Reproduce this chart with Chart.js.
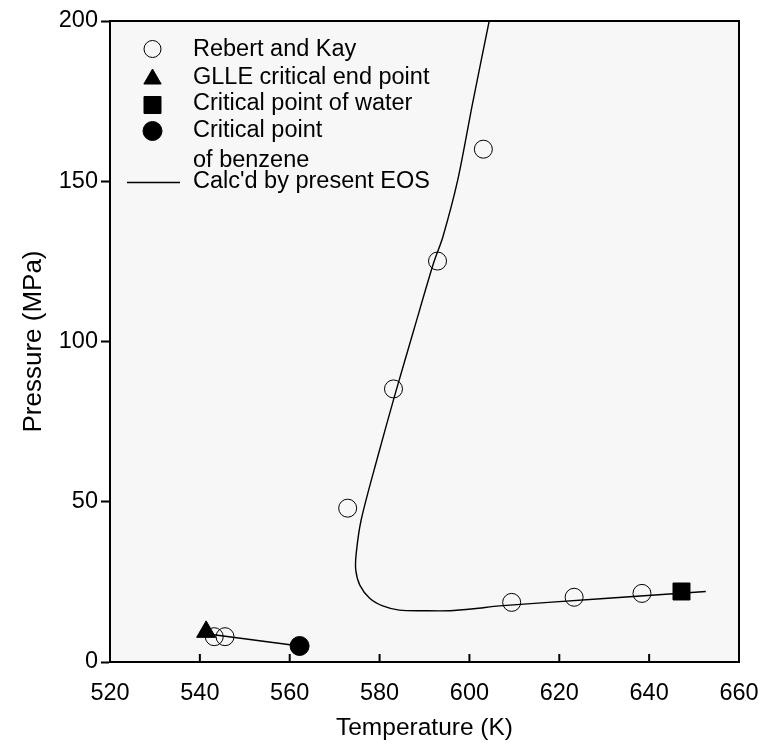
<!DOCTYPE html>
<html>
<head>
<meta charset="utf-8">
<script src="https://cdn.jsdelivr.net/npm/chart.js@4.4.1/dist/chart.umd.min.js"></script>
<style>
  html, body { margin: 0; padding: 0; background: #fff; }
  #wrap { width: 768px; height: 747px; position: relative; }
</style>
</head>
<body>
<div id="wrap"><canvas id="c"></canvas></div>
<script>
// Axis ticks
const tempTicks = [520, 540, 560, 580, 600, 620, 640, 660];
const pressTicks = [0, 50, 100, 150, 200];

// Rebert and Kay measurements (T in K, P in MPa)
const rebertKayT = [543.2, 545.6, 572.9, 583.1, 592.9, 603.1, 609.4, 623.3, 638.4];
const rebertKayP = [7.9, 7.9, 48.0, 85.2, 125.1, 160.0, 18.6, 20.2, 21.4];

// Special points
const glleT = [541.4];
const glleP = [9.4];
const waterCritT = [647.2];
const waterCritP = [22.0];
const benzeneCritT = [562.2];
const benzeneCritP = [5.0];

// EOS critical locus, benzene-rich branch
const eosLowT = [541.4, 562.2];
const eosLowP = [8.8, 5.0];

// EOS critical locus, water-rich branch
const eosHighT = [604.4, 600.7, 597.4, 594.1, 592.0, 587.6, 583.3, 579.6, 575.9, 574.8, 574.7, 575.6, 577.8, 580.7, 584.4, 590.0, 595.6, 601.0, 606.7, 630.0, 652.6];
const eosHighP = [200.0, 174.3, 150.4, 132.7, 124.4, 103.5, 82.8, 64.1, 44.3, 33.9, 28.7, 24.0, 19.9, 17.5, 16.2, 16.0, 16.0, 16.6, 17.5, 19.8, 22.0];

// Legend text
const legendLabels = [
  ['Rebert and Kay'],
  ['GLLE critical end point'],
  ['Critical point of water'],
  ['Critical point', 'of benzene'],
  ["Calc'd by present EOS"]
];

const pts = (xs, ys) => xs.map((x, i) => ({ x: x, y: ys[i] }));

const FONT = '"Liberation Sans", Arial, Helvetica, sans-serif';

const datasets = [
  { label: legendLabels[0].join(' '), data: pts(rebertKayT, rebertKayP), pointStyle: 'circle',
    pointRadius: 9, backgroundColor: 'rgba(0,0,0,0)', borderColor: '#000', borderWidth: 1, order: 1 },
  { label: legendLabels[1].join(' '), data: pts(glleT, glleP), pointStyle: 'triangle',
    pointRadius: 11, backgroundColor: '#000', borderColor: '#000', borderWidth: 1, order: 1 },
  { label: legendLabels[2].join(' '), data: pts(waterCritT, waterCritP), pointStyle: 'rect',
    pointRadius: 12, backgroundColor: '#000', borderColor: '#000', borderWidth: 1, order: 1 },
  { label: legendLabels[3].join(' '), data: pts(benzeneCritT, benzeneCritP), pointStyle: 'circle',
    pointRadius: 9.5, backgroundColor: '#000', borderColor: '#000', borderWidth: 1, order: 1 },
  { label: legendLabels[4].join(' '), data: pts(eosHighT, eosHighP), showLine: true, pointRadius: 0,
    borderColor: '#000', borderWidth: 1.4, tension: 0.3, fill: false, order: 2 },
  { label: legendLabels[4].join(' ') + ' (low)', data: pts(eosLowT, eosLowP), showLine: true, pointRadius: 0,
    borderColor: '#000', borderWidth: 1.4, tension: 0, fill: false, order: 2 }
];

// Light panel behind the plotting area
const panelBg = {
  id: 'panelBg',
  beforeDraw(chart) {
    const { ctx, chartArea: a } = chart;
    ctx.save();
    ctx.fillStyle = '#f7f7f7';
    ctx.fillRect(a.left, a.top, a.right - a.left, a.bottom - a.top);
    ctx.restore();
  }
};

// Closed frame and inward ticks on the temperature axis
const frame = {
  id: 'frame',
  afterDatasetsDraw(chart) {
    const { ctx, chartArea: a, scales } = chart;
    ctx.save();
    ctx.strokeStyle = '#000';
    ctx.lineWidth = 2;
    ctx.beginPath();
    scales.x.ticks.forEach(t => {
      const px = scales.x.getPixelForValue(t.value);
      ctx.moveTo(px, a.bottom);
      ctx.lineTo(px, a.bottom - 8);
    });
    ctx.stroke();
    ctx.strokeRect(a.left, a.top, a.right - a.left, a.bottom - a.top);
    ctx.restore();
  }
};

// Legend box inside the plot
const insetLegend = {
  id: 'insetLegend',
  afterDraw(chart) {
    const { ctx } = chart;
    const H = Chart.helpers;
    const symX = 152.5, textX = 193;
    const rows = [
      { ds: 0, symY: 49, radius: 8.5, base: [56] },
      { ds: 1, symY: 79, radius: 10, base: [84] },
      { ds: 2, symY: 105, radius: 12, base: [110] },
      { ds: 3, symY: 131, radius: 9.5, base: [137, 167] },
      { ds: 4, symY: 182.5, line: true, base: [188] }
    ];
    ctx.save();
    rows.forEach((r, i) => {
      const d = datasets[r.ds];
      if (r.line) {
        ctx.strokeStyle = d.borderColor;
        ctx.lineWidth = d.borderWidth;
        ctx.beginPath();
        ctx.moveTo(127, r.symY);
        ctx.lineTo(180, r.symY);
        ctx.stroke();
      } else {
        ctx.fillStyle = d.backgroundColor;
        ctx.strokeStyle = d.borderColor;
        ctx.lineWidth = d.borderWidth;
        H.drawPoint(ctx, { pointStyle: d.pointStyle, radius: r.radius, rotation: 0, borderWidth: d.borderWidth }, symX, r.symY);
      }
      ctx.fillStyle = '#000';
      ctx.font = '23.5px ' + FONT;
      ctx.textBaseline = 'alphabetic';
      ctx.textAlign = 'left';
      legendLabels[i].forEach((txt, k) => ctx.fillText(txt, textX, r.base[k]));
    });
    ctx.restore();
  }
};

new Chart(document.getElementById('c'), {
  type: 'scatter',
  data: { datasets },
  options: {
    responsive: true,
    maintainAspectRatio: false,
    animation: false,
    events: [],
    layout: { padding: { top: 21, right: 29, left: 0, bottom: 0 } },
    plugins: { legend: { display: false }, tooltip: { enabled: false } },
    scales: {
      x: {
        type: 'linear',
        min: 520, max: 660,
        afterBuildTicks: s => { s.ticks = tempTicks.map(v => ({ value: v })); },
        afterFit: s => { s.height = 85; s.paddingLeft = 0; s.paddingRight = 0; },
        grid: { display: true, drawOnChartArea: false, drawTicks: false },
        border: { display: true, color: '#000', width: 2 },
        ticks: { color: '#000', padding: 17, font: { family: FONT, size: 23.5 }, maxRotation: 0 },
        title: { display: true, text: 'Temperature (K)', color: '#000',
                 font: { family: FONT, size: 24.5 }, padding: { top: 0, bottom: 4 } }
      },
      y: {
        type: 'linear',
        min: 0, max: 200,
        afterBuildTicks: s => { s.ticks = pressTicks.map(v => ({ value: v })); },
        afterFit: s => { s.width = 110; s.paddingTop = 0; s.paddingBottom = 0; },
        grid: { display: true, drawOnChartArea: false, drawTicks: true, tickLength: 9, tickWidth: 2, tickColor: '#000' },
        border: { display: true, color: '#000', width: 2 },
        ticks: { color: '#000', padding: 3, font: { family: FONT, size: 23.5 } },
        title: { display: true, text: 'Pressure (MPa)', color: '#000',
                 font: { family: FONT, size: 26 }, padding: { top: 18, bottom: 0 } }
      }
    }
  },
  plugins: [panelBg, frame, insetLegend]
});
</script>
</body>
</html>
